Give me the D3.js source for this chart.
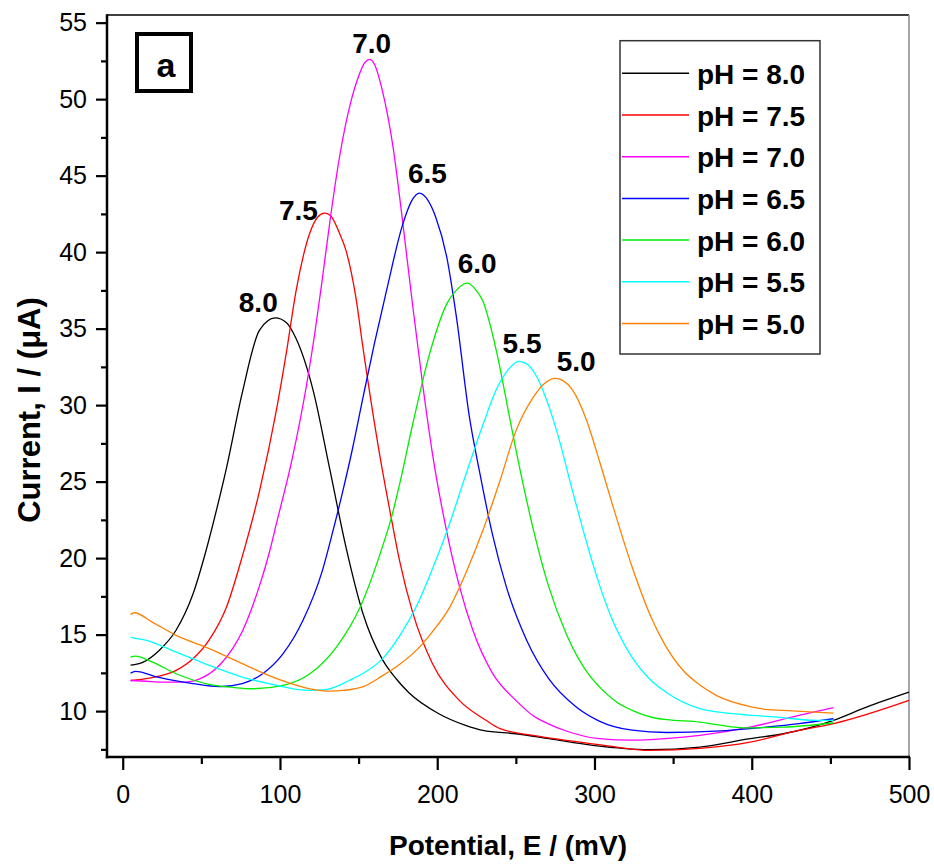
<!DOCTYPE html>
<html>
<head>
<meta charset="utf-8">
<script src="https://cdn.jsdelivr.net/npm/d3@7"></script>
<style>
  body { margin: 0; background: #fff; }
  text { font-family: Arial, "Liberation Sans", sans-serif; }
</style>
</head>
<body>
<svg id="chart" width="934" height="865"></svg>
<script>
// Differential pulse voltammograms recorded at different pH values
const phLabels = ["8.0", "7.5", "7.0", "6.5", "6.0", "5.5", "5.0"];
const seriesColors = ["#000000", "#ff0000", "#ff00ff", "#0000ff", "#00ee00", "#00ffff", "#ff8000"];

const xTicks = [0, 100, 200, 300, 400, 500];
const xMinorTicks = [50, 150, 250, 350, 450];
const yTicks = [10, 15, 20, 25, 30, 35, 40, 45, 50, 55];
const yMinorTicks = [7.5, 12.5, 17.5, 22.5, 27.5, 32.5, 37.5, 42.5, 47.5, 52.5];

// potential E (mV) and current I (µA) for each pH
const ph80E = [5, 13, 23, 34, 44.5, 53, 60, 66, 76, 87, 97, 104, 110, 121, 131.5, 142, 152.7, 165, 174, 182, 201, 218, 229, 250, 271, 299, 335, 367, 399, 420, 452, 473, 500];
const ph80I = [13.0, 13.2, 13.95, 15.3, 17.6, 20.5, 23.3, 25.9, 30.8, 34.9, 35.7, 35.4, 34.4, 31.0, 25.9, 20.7, 16.4, 13.4, 12.1, 11.2, 9.83, 9.07, 8.74, 8.52, 8.2, 7.76, 7.48, 7.65, 8.2, 8.52, 9.4, 10.26, 11.24];

const ph75E = [5, 17, 34, 44.5, 55, 66, 76, 87, 97.6, 104, 110.3, 118.8, 124, 128.3, 132, 138, 142, 148, 153, 163, 171, 176, 184.5, 197, 214, 231, 240, 261, 282, 314, 335, 367, 399, 430, 452, 500];
const ph75I = [12.0, 12.16, 12.66, 13.4, 14.65, 16.8, 20.1, 24.4, 29.6, 33.4, 37.5, 41.2, 42.3, 42.55, 42.4, 41.2, 40.1, 37.2, 33.6, 27.0, 22.5, 19.85, 16.4, 13.1, 10.7, 9.4, 8.85, 8.41, 8.09, 7.65, 7.43, 7.56, 7.97, 8.74, 9.18, 10.7];

const ph70E = [5, 15, 23, 40, 51, 61.5, 70, 76, 82.7, 87, 93.3, 97.6, 108, 116.7, 122, 127, 132, 138, 145, 150, 154, 157, 160, 165, 172, 178, 184.5, 190.8, 197, 205.7, 214, 222.6, 235, 250, 261, 270, 282, 303, 324, 345, 367, 399, 430, 452];
const ph70I = [12.0, 11.95, 11.9, 11.9, 12.2, 13.0, 14.1, 15.2, 16.9, 18.2, 20.4, 22.2, 26.6, 31.2, 34.6, 38.3, 42.2, 46.3, 49.8, 51.5, 52.4, 52.6, 52.3, 50.6, 46.8, 42.0, 36.4, 31.3, 26.8, 21.9, 18.2, 15.3, 12.5, 10.7, 9.7, 9.2, 8.7, 8.2, 8.1, 8.2, 8.41, 8.95, 9.72, 10.22];

const ph65E = [5, 8, 23, 44.5, 61.5, 76, 89, 102, 114.5, 127, 133, 140, 146, 153, 160, 168, 178, 184, 188.7, 194, 199, 206, 212, 220.5, 227, 235, 244, 257, 271, 288, 303, 324, 346, 377, 409, 430, 452];
const ph65I = [12.48, 12.6, 12.2, 11.8, 11.6, 11.8, 12.44, 13.75, 15.9, 19.2, 21.5, 24.4, 27.1, 30.6, 34.0, 37.6, 41.8, 43.4, 43.86, 43.4, 42.3, 39.7, 35.9, 29.2, 25.6, 21.6, 18.1, 14.6, 12.1, 10.3, 9.35, 8.75, 8.6, 8.69, 8.95, 9.18, 9.5];

const ph60E = [5, 8, 19, 34, 55, 70, 83, 102, 119, 136, 151, 165, 171, 176, 184.5, 195, 206, 213, 219, 224, 229, 237.5, 246, 250, 259, 271, 282, 297, 303, 314, 324, 341, 346, 367, 394, 420, 452];
const ph60I = [13.53, 13.6, 13.2, 12.44, 11.75, 11.55, 11.46, 11.68, 12.44, 14.2, 16.8, 20.7, 22.7, 24.8, 28.8, 33.3, 36.6, 37.6, 37.97, 37.6, 36.8, 33.6, 29.2, 27.1, 22.8, 18.1, 15.06, 12.3, 11.6, 10.6, 10.05, 9.5, 9.44, 9.28, 8.91, 8.95, 9.24];

const ph55E = [5, 8, 13, 34, 55, 76, 98, 112, 119, 129, 144, 155, 165, 176, 187, 197, 208, 218, 229, 237.5, 245, 252, 258, 265, 270, 276, 286, 297, 303, 310, 324, 335, 346, 367, 388, 416, 441, 452];
const ph55I = [14.84, 14.75, 14.67, 13.86, 12.99, 12.22, 11.68, 11.4, 11.35, 11.4, 12.0, 12.6, 13.4, 14.9, 16.9, 19.3, 22.3, 25.4, 28.7, 31.0, 32.3, 32.86, 32.6, 31.5, 30.2, 28.3, 24.4, 20.3, 18.3, 16.3, 13.5, 12.1, 11.2, 10.16, 9.83, 9.61, 9.39, 9.39];

const ph50E = [5, 7.4, 19, 34, 55, 76, 98, 119, 132, 140, 153, 165, 176, 187, 197, 208, 218, 229, 240, 250, 261, 268, 275, 280, 286, 295, 303, 312, 324, 337, 345, 356, 367, 378, 399, 410, 420, 452];
const ph50I = [16.32, 16.43, 15.8, 14.95, 14.08, 13.1, 12.12, 11.46, 11.3, 11.35, 11.6, 12.3, 13.05, 14.0, 15.2, 16.8, 18.98, 21.8, 25.1, 28.3, 30.5, 31.4, 31.75, 31.6, 31.0, 29.0, 26.4, 23.3, 19.4, 15.9, 14.3, 12.7, 11.7, 11.0, 10.3, 10.1, 10.05, 9.87];

const potentials = [ph80E, ph75E, ph70E, ph65E, ph60E, ph55E, ph50E];
const currents = [ph80I, ph75I, ph70I, ph65I, ph60I, ph55I, ph50I];

// pixel nudges of each peak label relative to its curve maximum
const peakLabelShift = [[-17, -6], [-26, 7], [2, -6], [8, -10], [10, -10], [3, -8], [21, -7]];

const series = phLabels.map((ph, i) => ({
  ph,
  color: seriesColors[i],
  points: potentials[i].map((e, j) => ({ e, i: currents[i][j] }))
}));

const svg = d3.select("#chart");
const plot = { left: 107, right: 909, top: 15, bottom: 757 };

const x = d3.scaleLinear().domain([-10, 500]).range([plot.left, plot.right]);
const y = d3.scaleLinear().domain([7, 55.5]).range([plot.bottom, plot.top]);

// frame
svg.append("line").attr("x1", plot.left).attr("x2", plot.right).attr("y1", plot.top).attr("y2", plot.top)
  .attr("stroke", "#000").attr("stroke-width", 1.5);
svg.append("line").attr("x1", plot.right).attr("x2", plot.right).attr("y1", plot.top).attr("y2", plot.bottom)
  .attr("stroke", "#888").attr("stroke-width", 1.5);

// curves
const line = d3.line().x(d => x(d.e)).y(d => y(d.i)).curve(d3.curveMonotoneX);
svg.append("g").selectAll("path").data(series).join("path")
  .attr("d", d => line(d.points))
  .attr("fill", "none")
  .attr("stroke", d => d.color)
  .attr("stroke-width", 1.3)
  .attr("stroke-linejoin", "round");

// axes
const xAxis = svg.append("g").attr("transform", `translate(0,${plot.bottom})`)
  .call(d3.axisBottom(x).tickValues(xTicks).tickSize(13).tickPadding(15).tickFormat(d3.format("d")));
const xMinor = svg.append("g").attr("transform", `translate(0,${plot.bottom})`)
  .call(d3.axisBottom(x).tickValues(xMinorTicks).tickSize(7).tickFormat(""));
const yAxis = svg.append("g").attr("transform", `translate(${plot.left},0)`)
  .call(d3.axisLeft(y).tickValues(yTicks).tickSize(11).tickPadding(9).tickFormat(d3.format("d")));
const yMinor = svg.append("g").attr("transform", `translate(${plot.left},0)`)
  .call(d3.axisLeft(y).tickValues(yMinorTicks).tickSize(6).tickFormat(""));

[xAxis, xMinor, yAxis, yMinor].forEach(g => {
  g.select(".domain").remove();
  g.selectAll(".tick line").attr("stroke", "#000").attr("stroke-width", 2.2);
  g.selectAll(".tick text").attr("font-size", 25).attr("font-family", "Arial, 'Liberation Sans', sans-serif").attr("fill", "#000");
});

svg.append("line").attr("x1", plot.left).attr("x2", plot.left).attr("y1", plot.top - 0.75).attr("y2", plot.bottom + 1.2)
  .attr("stroke", "#000").attr("stroke-width", 2.5);
svg.append("line").attr("x1", plot.left - 1.2).attr("x2", plot.right + 1).attr("y1", plot.bottom).attr("y2", plot.bottom)
  .attr("stroke", "#000").attr("stroke-width", 2.5);

// axis titles
svg.append("text")
  .attr("x", (plot.left + plot.right) / 2).attr("y", 855)
  .attr("text-anchor", "middle").attr("font-size", 28).attr("font-weight", "bold")
  .text("Potential, E / (mV)");
svg.append("text")
  .attr("transform", "translate(40,410) rotate(-90)")
  .attr("text-anchor", "middle").attr("font-size", 31).attr("font-weight", "bold")
  .text("Current, I / (\u03bcA)");

// peak labels
series.forEach((s, k) => {
  const top = s.points.reduce((a, b) => (b.i > a.i ? b : a));
  svg.append("text")
    .attr("x", x(top.e) + peakLabelShift[k][0])
    .attr("y", y(top.i) + peakLabelShift[k][1])
    .attr("text-anchor", "middle").attr("font-size", 28).attr("font-weight", "bold")
    .text(s.ph);
});

// panel tag
svg.append("rect").attr("x", 137).attr("y", 34).attr("width", 54).attr("height", 57)
  .attr("fill", "none").attr("stroke", "#000").attr("stroke-width", 4);
svg.append("text").attr("x", 166).attr("y", 77).attr("text-anchor", "middle")
  .attr("font-family", "'Times New Roman', 'Liberation Serif', serif")
  .attr("font-size", 34).attr("font-weight", "bold").text("a");

// legend
const legend = svg.append("g");
legend.append("rect").attr("x", 620).attr("y", 40.7).attr("width", 200).attr("height", 313.3)
  .attr("fill", "#fff").attr("stroke", "#333").attr("stroke-width", 1.5);
const rows = legend.selectAll("g.row").data(series).join("g").attr("class", "row")
  .attr("transform", (d, i) => `translate(0,${73.3 + i * 41.7})`);
rows.append("line").attr("x1", 622).attr("x2", 689).attr("y1", 0).attr("y2", 0)
  .attr("stroke", d => d.color).attr("stroke-width", 1.5);
rows.append("text").attr("x", 697).attr("y", 10.5)
  .attr("font-size", 28).attr("font-weight", "bold")
  .text(d => `pH = ${d.ph}`);
</script>
</body>
</html>
